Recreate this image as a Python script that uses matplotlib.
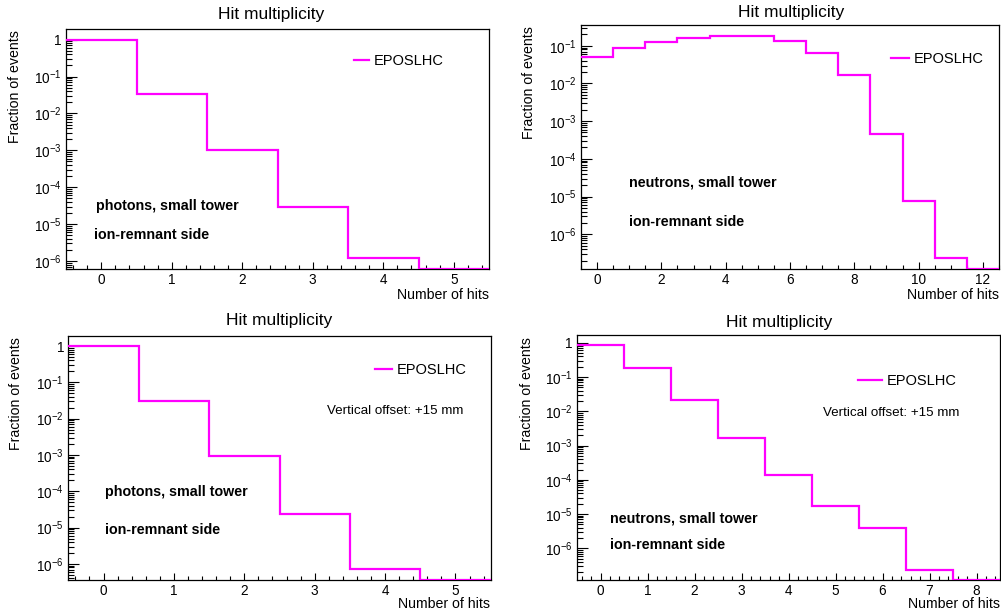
import numpy as np
import matplotlib
matplotlib.use("Agg")
import matplotlib.pyplot as plt
from matplotlib.ticker import FixedLocator, MultipleLocator, FuncFormatter, NullFormatter

plt.rcParams['font.family'] = ['Liberation Sans', 'DejaVu Sans']
plt.rcParams['mathtext.fontset'] = 'custom'
plt.rcParams['mathtext.rm'] = 'Liberation Sans'
plt.rcParams['mathtext.it'] = 'Liberation Sans:italic'
plt.rcParams['mathtext.bf'] = 'Liberation Sans:bold'

# histogram contents (fraction of events per number of hits)
photons_top = [0.97, 0.0327, 1.0e-3, 2.95e-5, 1.23e-6, 0.0]
neutrons_top = [0.050, 0.090, 0.125, 0.160, 0.180, 0.185, 0.135, 0.066,
                0.0164, 4.6e-4, 7.7e-6, 2.3e-7, 0.0]
photons_offset = [0.98, 0.0305, 9.1e-4, 2.4e-5, 7.1e-7, 0.0]
neutrons_offset = [0.84, 0.186, 0.0213, 1.66e-3, 1.4e-4, 1.7e-5, 3.9e-6,
                   2.4e-7, 0.0]

model_name = "EPOSLHC"
title = "Hit multiplicity"
xlabel = "Number of hits"
ylabel = "Fraction of events"
offset_note = "Vertical offset: +15 mm"
side_note = "ion-remnant side"

W, H = 1001, 612
MAGENTA = "#ff00ff"


def px(x, y):
    return x / W, 1 - y / H


def log_label(v, pos):
    e = int(round(np.log10(v)))
    if e == 0:
        return "1"
    return r"$10^{%d}$" % e


def make_panel(fig, box, values, ylim, xmajor, xminor, title_xy, ylab_xy,
               xlab_xy, leg_xy, handlelen, notes):
    left, top, right, bottom = box
    ax = fig.add_axes([left / W, 1 - bottom / H, (right - left) / W, (bottom - top) / H])
    values = np.array(values, dtype=float)
    edges = np.arange(len(values) + 1) - 0.5
    shown = np.clip(values, ylim[0], None)
    ax.stairs(shown, edges, baseline=None, color=MAGENTA, linewidth=1.6,
              label=model_name, zorder=3)
    ax.set_yscale('log')
    ax.set_xlim(edges[0], edges[-1])
    ax.set_ylim(*ylim)

    # only ticks inside the visible range
    lo, hi = np.log10(ylim[0]), np.log10(ylim[1])
    decades = np.arange(np.floor(lo), np.ceil(hi) + 1)
    majors = [10.0 ** d for d in decades if lo <= d <= hi]
    minors = [m * 10.0 ** d for d in decades for m in range(2, 10)
              if lo <= np.log10(m * 10.0 ** d) <= hi]
    ax.yaxis.set_major_locator(FixedLocator(majors))
    ax.yaxis.set_minor_locator(FixedLocator(minors))
    ax.yaxis.set_major_formatter(FuncFormatter(log_label))
    ax.yaxis.set_minor_formatter(NullFormatter())
    ax.xaxis.set_major_locator(MultipleLocator(xmajor))
    ax.xaxis.set_minor_locator(MultipleLocator(xminor))

    ax.tick_params(axis='both', which='both', direction='in', top=False, right=False,
                   labelsize=9.8, colors='black', width=0.8)
    ax.tick_params(axis='y', which='major', length=8, pad=3)
    ax.tick_params(axis='y', which='minor', length=4.3)
    ax.tick_params(axis='x', which='major', length=5, pad=3)
    ax.tick_params(axis='x', which='minor', length=2.6)
    for s in ax.spines.values():
        s.set_linewidth(0.9)

    fig.text(*px(*title_xy), title, ha='center', va='center', fontsize=12.5)
    fig.text(*px(*ylab_xy), ylabel, ha='center', va='top', rotation=90, fontsize=10.2)
    fig.text(*px(*xlab_xy), xlabel, ha='right', va='center', fontsize=10.2)

    fx = (leg_xy[0] - left) / (right - left)
    fy = (bottom - leg_xy[1]) / (bottom - top)
    ax.legend(loc='center left', bbox_to_anchor=(fx, fy), frameon=False,
              borderpad=0, borderaxespad=0, handlelength=handlelen,
              handletextpad=0.35, fontsize=10.5)

    for (tx, ty), txt, bold in notes:
        fig.text(*px(tx, ty), txt, ha='left', va='center',
                 fontsize=10.3 if bold else 9.6,
                 fontweight='bold' if bold else 'normal')
    return ax


fig = plt.figure(figsize=(W / 100, H / 100), dpi=100)

make_panel(fig, (66, 29.3, 489, 269.3), photons_top, (6e-7, 1.9), 1, 0.2,
           (271, 14), (15, 30), (489, 295), (354, 61), 1.0,
           [((95.7, 205.7), "photons, small tower", True),
            ((94, 235.3), side_note, True)])

make_panel(fig, (581, 25.3, 999, 269.3), neutrons_top, (1.17e-7, 0.35), 2, 0.5,
           (791, 13), (529, 26), (999, 295), (891, 59.3), 1.2,
           [((629.3, 182), "neutrons, small tower", True),
            ((629.3, 221.7), side_note, True)])

make_panel(fig, (68.3, 336, 490.7, 580), photons_offset, (3.6e-7, 1.89), 1, 0.2,
           (279, 320), (16, 336.7), (490, 603.5), (375, 370.3), 1.15,
           [((105, 491.7), "photons, small tower", True),
            ((105, 530), side_note, True),
            ((327, 411.3), offset_note, False)])

make_panel(fig, (577, 335.3, 1000, 580), neutrons_offset, (1.2e-7, 1.64), 1, 0.2,
           (778.7, 322), (526.7, 336.7), (1000, 603.5), (857.7, 381.3), 1.65,
           [((610.3, 518.7), "neutrons, small tower", True),
            ((610.3, 545.3), side_note, True),
            ((823.3, 413), offset_note, False)])

fig.savefig("out.png", dpi=100)
